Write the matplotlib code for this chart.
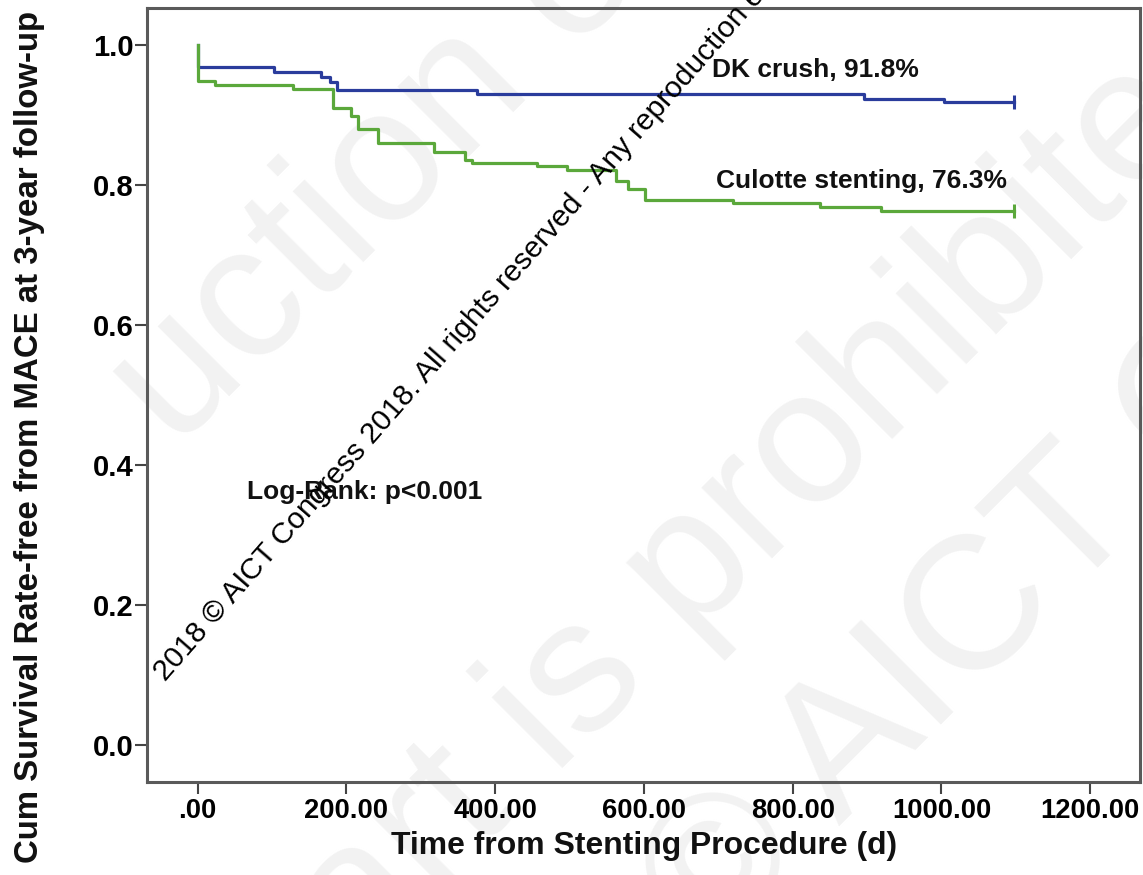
import matplotlib.pyplot as plt
from matplotlib import font_manager

# Kaplan-Meier estimates, MACE-free survival (days from stenting)
crush_days = [0, 0, 103, 166, 178, 188, 376, 896, 1003, 1097]
crush_surv = [1.0, 0.968, 0.961, 0.954, 0.947, 0.936, 0.930, 0.923, 0.918, 0.918]

culotte_days = [0, 0, 24, 128, 182, 206, 215, 243, 318, 360, 369, 456, 496,
                562, 578, 601, 720, 837, 919, 1097]
culotte_surv = [1.0, 0.948, 0.943, 0.937, 0.910, 0.898, 0.880, 0.860, 0.847,
                0.836, 0.831, 0.827, 0.821, 0.806, 0.795, 0.778, 0.774, 0.769,
                0.763, 0.763]

crush_label = "DK crush, 91.8%"
culotte_label = "Culotte stenting, 76.3%"
logrank_label = "Log-Rank: p<0.001"

x_ticks = [0, 200, 400, 600, 800, 1000, 1200]
x_ticklabels = [".00", "200.00", "400.00", "600.00", "800.00", "1000.00", "1200.00"]
y_ticks = [0.0, 0.2, 0.4, 0.6, 0.8, 1.0]
y_ticklabels = ["0.0", "0.2", "0.4", "0.6", "0.8", "1.0"]

BLUE = "#2a3c9c"
GREEN = "#5ba83b"

installed = {f.name for f in font_manager.fontManager.ttflist}
narrow = "Liberation Sans Narrow" if "Liberation Sans Narrow" in installed else "Liberation Sans"
shrink = 1.0 if narrow == "Liberation Sans Narrow" else 0.82

fig = plt.figure(figsize=(11.43, 8.75), dpi=100)
W, H = 1143, 875

# faint background watermark
wm = dict(fontsize=137, color="#f2f2f2", rotation=45, rotation_mode="anchor",
          ha="left", va="baseline", family="Liberation Sans", zorder=-5)
fig.text(175 / W, 1 - 450 / H, "uction of any", **wm)
fig.text(30 / W, 1 - 1300 / H, "any part is prohibited", **wm)
fig.text(710 / W, 1 - 955 / H, "© AICT Congress", **wm)

ax = fig.add_axes([147 / W, 93 / H, 993 / W, 774 / H])
ax.set_facecolor("none")

ax.step(crush_days, crush_surv, where="post", color=BLUE, lw=2.3)
ax.step(culotte_days, culotte_surv, where="post", color=GREEN, lw=2.3)
ax.plot(crush_days[-1], crush_surv[-1], marker="|", ms=10, mew=2.2, color=BLUE)
ax.plot(culotte_days[-1], culotte_surv[-1], marker="|", ms=10, mew=2.2, color=GREEN)

ax.set_xlim(-68, 1267)
ax.set_ylim(-0.053, 1.053)

ax.set_xticks(x_ticks)
ax.set_xticklabels(x_ticklabels, family=narrow, weight="bold", fontsize=24 * shrink)
ax.set_yticks(y_ticks)
ax.set_yticklabels(y_ticklabels, family="Liberation Sans", weight="bold", fontsize=21)
ax.tick_params(axis="both", direction="out", length=8.6, width=1.5, color="#444444")
ax.tick_params(axis="y", pad=1)
ax.tick_params(axis="x", pad=3)

for side in ax.spines.values():
    side.set_color("#5a5a5a")
    side.set_linewidth(2.2)

txt = dict(family="Liberation Sans", weight="bold", fontsize=19, color="#111111",
           va="center", ha="left")
ax.text(692, 0.964, crush_label, **txt)
ax.text(697, 0.806, culotte_label, **txt)
ax.text(67, 0.362, logrank_label, **txt)

fig.text(644 / W, 1 - 846 / H, "Time from Stenting Procedure (d)", family=narrow,
         weight="bold", fontsize=28 * shrink, ha="center", va="center", color="#111111")
fig.text(30 / W, 1 - 437 / H, "Cum Survival Rate-free from MACE at 3-year follow-up",
         family=narrow, weight="bold", fontsize=29 * shrink, rotation=90,
         ha="center", va="center", color="#111111")

# copyright line across the plot
fig.text(165 / W, 1 - 682 / H,
         "2018 © AICT Congress 2018. All rights reserved - Any reproduction e",
         family="Liberation Sans", fontsize=21.5, rotation=48.8, rotation_mode="anchor",
         ha="left", va="baseline", color="black", zorder=10)

fig.savefig("out.png", dpi=100)
